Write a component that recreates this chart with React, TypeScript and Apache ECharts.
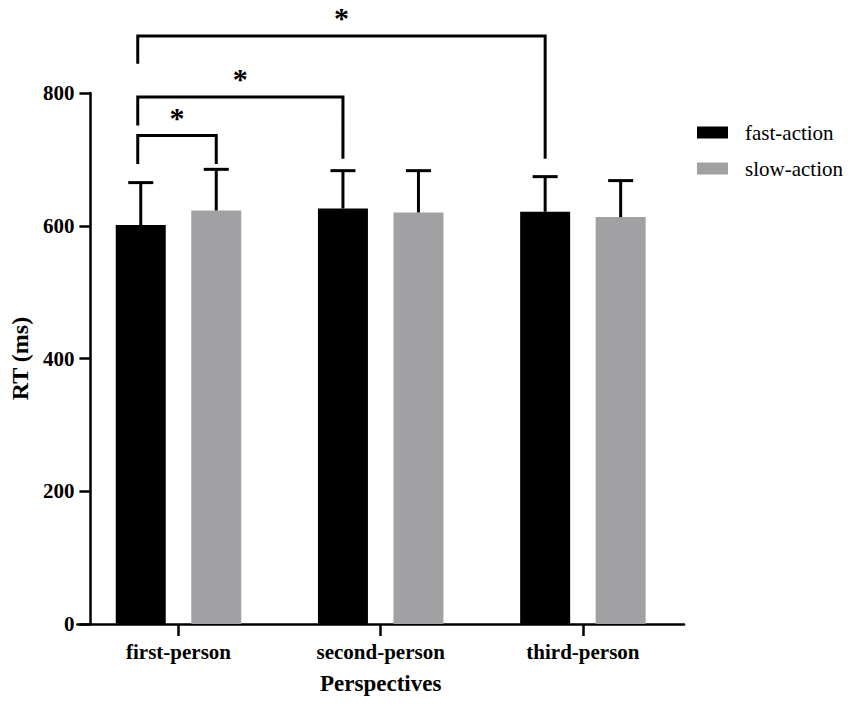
import React, { useEffect, useRef } from "react";
import * as echarts from "echarts";

const categories = ["first-person", "second-person", "third-person"];
const seriesNames = ["fast-action", "slow-action"];
const fastMean = [601, 626, 621];
const fastUpper = [665, 683, 674];
const slowMean = [623, 620, 613];
const slowUpper = [685, 683, 668];
const yTicks = [0, 200, 400, 600, 800];

// brackets: [fromCategory, fromSeries, toCategory, toSeries, level, leftLegEnd, rightLegEnd]
const brackets = [
  [0, 0, 0, 1, 736, 693, 693],
  [0, 0, 1, 0, 794, 751, 701],
  [0, 0, 2, 0, 886, 844, 701],
];
const bracketLabels = ["*", "*", "*"];

const FONT = "'Liberation Serif', 'Times New Roman', serif";
const BAR_W = 50;
const BAR_GAP = 25.5;
const OFFSETS = [-(BAR_W + BAR_GAP) / 2, (BAR_W + BAR_GAP) / 2];
const COLORS = ["#000000", "#a1a1a4"];

export default function App() {
  const ref = useRef<HTMLDivElement>(null);
  useEffect(() => {
    if (!ref.current) return;
    const chart = echarts.init(ref.current, undefined, { renderer: "svg" });

    const errSeries = (idx: number, means: number[], uppers: number[]) => ({
      type: "custom",
      name: seriesNames[idx] + "-err",
      data: means.map((m, i) => [i, m, uppers[i]]),
      encode: { x: 0, y: 1 },
      z: 5,
      clip: false,
      silent: true,
      renderItem: (params: any, api: any) => {
        const cat = api.value(0);
        const c = api.coord([cat, api.value(1)]);
        const t = api.coord([cat, api.value(2)]);
        const x = c[0] + OFFSETS[idx];
        return {
          type: "group",
          children: [
            { type: "line", shape: { x1: x, y1: c[1], x2: x, y2: t[1] }, style: { stroke: "#000", lineWidth: 3 } },
            { type: "line", shape: { x1: x - 12.5, y1: t[1], x2: x + 12.5, y2: t[1] }, style: { stroke: "#000", lineWidth: 3 } },
          ],
        };
      },
    });

    const option: any = {
      animation: false,
      backgroundColor: "#ffffff",
      grid: { left: 74, right: 851 - 684, top: 93, bottom: 82, containLabel: false },
      legend: {
        orient: "vertical",
        left: 697,
        top: 122,
        padding: 0,
        itemWidth: 31,
        itemHeight: 12,
        itemGap: 15,
        icon: "rect",
        data: seriesNames,
        textStyle: { fontFamily: FONT, fontSize: 21, color: "#000", padding: [0, 0, 0, 12] },
      },
      xAxis: {
        type: "category",
        data: categories,
        name: "Perspectives",
        nameLocation: "middle",
        nameGap: 48,
        nameTextStyle: { fontFamily: FONT, fontSize: 23, fontWeight: "bold", color: "#000" },
        axisLine: { show: true, lineStyle: { color: "#000", width: 2.5 } },
        axisTick: { show: true, alignWithLabel: true, length: 12, lineStyle: { color: "#000", width: 2.5 } },
        axisLabel: { margin: 17, fontFamily: FONT, fontSize: 21, fontWeight: "bold", color: "#000" },
        splitLine: { show: false },
      },
      yAxis: {
        type: "value",
        min: yTicks[0],
        max: yTicks[yTicks.length - 1],
        interval: yTicks[1] - yTicks[0],
        offset: -13,
        name: "RT (ms)",
        nameLocation: "middle",
        nameGap: 57,
        nameTextStyle: { fontFamily: FONT, fontSize: 24, fontWeight: "bold", color: "#000" },
        axisLine: { show: true, lineStyle: { color: "#000", width: 2.5 } },
        axisTick: { show: true, length: 11, lineStyle: { color: "#000", width: 2.5 } },
        axisLabel: { margin: 16, fontFamily: FONT, fontSize: 21, fontWeight: "bold", color: "#000" },
        splitLine: { show: false },
      },
      series: [
        {
          type: "bar",
          name: seriesNames[0],
          data: fastMean,
          barWidth: BAR_W,
          barGap: (BAR_GAP / BAR_W) * 100 + "%",
          itemStyle: { color: COLORS[0] },
        },
        {
          type: "bar",
          name: seriesNames[1],
          data: slowMean,
          barWidth: BAR_W,
          itemStyle: { color: COLORS[1] },
        },
        errSeries(0, fastMean, fastUpper),
        errSeries(1, slowMean, slowUpper),
        {
          type: "custom",
          name: "brackets",
          data: brackets.map((b) => [b[0], b[4], b[2], b[5], b[6], b[1], b[3]]),
          encode: { x: 0, y: 1 },
          z: 6,
          clip: false,
          silent: true,
          renderItem: (params: any, api: any) => {
            const i = params.dataIndex;
            const fromCat = api.value(0);
            const level = api.value(1);
            const toCat = api.value(2);
            const lEnd = api.value(3);
            const rEnd = api.value(4);
            const fs = api.value(5);
            const ts = api.value(6);
            const pL = api.coord([fromCat, level]);
            const pR = api.coord([toCat, level]);
            const xL = pL[0] + OFFSETS[fs] - 3;
            const xR = pR[0] + OFFSETS[ts];
            const yL = api.coord([fromCat, lEnd])[1];
            const yR = api.coord([toCat, rEnd])[1];
            const y = pL[1];
            return {
              type: "group",
              children: [
                {
                  type: "polyline",
                  shape: { points: [[xL, yL], [xL, y], [xR, y], [xR, yR]] },
                  style: { stroke: "#000", lineWidth: 3, fill: "none" },
                },
                {
                  type: "text",
                  x: (xL + xR) / 2,
                  y: y - 18,
                  style: {
                    text: bracketLabels[i],
                    fontFamily: FONT,
                    fontSize: 30,
                    fontWeight: "bold",
                    fill: "#000",
                    align: "center",
                    verticalAlign: "middle",
                  },
                },
              ],
            };
          },
        },
      ],
    };
    chart.setOption(option);
    return () => chart.dispose();
  }, []);
  return (
    <div
      ref={ref}
      style={{ position: "fixed", left: 0, top: 0, width: 851, height: 706, background: "#fff" }}
    />
  );
}
